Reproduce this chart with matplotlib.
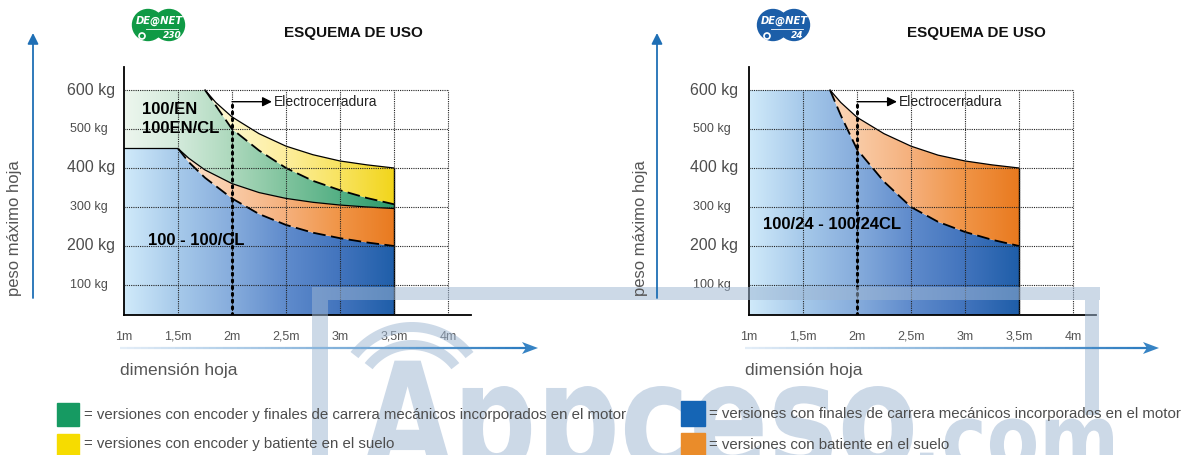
import numpy as np
import matplotlib.pyplot as plt
from matplotlib.colors import LinearSegmentedColormap
from matplotlib.patches import Polygon, Rectangle, Circle, PathPatch
from matplotlib.collections import LineCollection
from matplotlib.textpath import TextPath
from matplotlib.font_manager import FontProperties
from matplotlib.transforms import Affine2D, blended_transform_factory

plt.rcParams['font.family'] = ['Liberation Sans', 'DejaVu Sans']

W, H = 1181, 455

# --- datos ---
dim = [1, 1.5, 2, 2.5, 3, 3.5, 4]
dim_txt = ['1m', '1,5m', '2m', '2,5m', '3m', '3,5m', '4m']
peso = [100, 200, 300, 400, 500, 600]
peso_txt = ['100 kg', '200 kg', '300 kg', '400 kg', '500 kg', '600 kg']

# DEANET 230 (izquierda): techo de cada zona, peso (kg) segun dimension hoja (m)
x_amarillo = [1, 1.75, 1.85, 2, 2.25, 2.5, 2.75, 3, 3.25, 3.5]
y_amarillo = [600, 600, 568, 531, 488, 456, 434, 418, 408, 400]
x_verde = [1, 1.75, 1.85, 2, 2.25, 2.5, 2.75, 3, 3.25, 3.5]
y_verde = [600, 600, 560, 500, 445, 400, 367, 343, 323, 307]
x_naranja = [1, 1.5, 1.6, 1.75, 2, 2.25, 2.5, 2.75, 3, 3.25, 3.5]
y_naranja = [450, 450, 425, 395, 360, 337, 322, 312, 305, 300, 296]
x_azul = [1, 1.5, 1.6, 1.75, 2, 2.25, 2.5, 2.75, 3, 3.25, 3.5]
y_azul = [450, 450, 415, 375, 322, 282, 254, 234, 220, 209, 200]

# DEANET 24 (derecha)
x24_naranja = [1, 1.75, 1.85, 2, 2.25, 2.5, 2.75, 3, 3.25, 3.5]
y24_naranja = [600, 600, 568, 530, 488, 456, 433, 418, 408, 400]
x24_azul = [1, 1.75, 1.85, 2, 2.25, 2.5, 2.75, 3, 3.25, 3.5]
y24_azul = [600, 600, 535, 448, 365, 300, 262, 236, 216, 200]

YBOT, YTOP = 23, 659
XMAX = 1 + 347 / 108

cm_azul = LinearSegmentedColormap.from_list('az', ['#d0eafa', '#a6c9ea', '#86acdc', '#5f8bcc', '#4274bd', '#1f5ea9'])
cm_naranja = LinearSegmentedColormap.from_list('na', ['#fff2e6', '#fde4cf', '#f9cba6', '#f5b07c', '#f09446', '#e97a1f'])
cm_verde = LinearSegmentedColormap.from_list('ve', ['#edf6ee', '#d3eadb', '#acd8bc', '#7fc39d', '#53af84', '#2b9a6c'])
cm_amarillo = LinearSegmentedColormap.from_list('am', ['#fffef5', '#fffbe6', '#fef6c8', '#fdee9c', '#f8e35f', '#f2d51a'])


def gradiente(ax, xt, yt, xb, yb, cmap):
    verts = list(zip(xt, yt)) + list(zip(xb[::-1], yb[::-1]))
    poly = Polygon(verts, closed=True, fc='none', ec='none')
    ax.add_patch(poly)
    im = ax.imshow(np.linspace(0, 1, 256)[None, :], cmap=cmap, aspect='auto',
                   extent=[1, 3.5, YBOT, 600], origin='lower',
                   interpolation='bilinear', zorder=1)
    im.set_clip_path(poly)


def panel(left_px, big_x, small_x):
    ax = fig.add_axes([left_px / W, 1 - 315 / H, 347 / W, (315 - 67) / H])
    ax.set_facecolor('none')
    ax.spines[['top', 'right']].set_visible(False)
    ax.spines[['left', 'bottom']].set_linewidth(1.3)
    ax.set_xticks([])
    ax.set_yticks([])
    # rejilla punteada
    ax.hlines(peso, 1, 4, colors='#222222', linestyles=(0, (1, 1)), lw=0.8, zorder=3)
    ax.vlines(dim[1:], YBOT, 600, colors='#222222', linestyles=(0, (1, 1)), lw=0.8, zorder=3)
    # etiquetas eje x
    trx = blended_transform_factory(ax.transData, ax.transAxes)
    for v, t in zip(dim, dim_txt):
        ax.text(v, -0.1, t, transform=trx, ha='center', va='baseline',
                fontsize=9, color='#555555')
    # etiquetas eje y
    tr = blended_transform_factory(ax.transAxes, ax.transData)
    for v, t in zip(peso, peso_txt):
        if v in (200, 400, 600):
            ax.text((big_x - left_px) / 347, v, t, transform=tr, ha='left', va='center',
                    fontsize=11.5, color='#4d4d4d')
        else:
            ax.text((small_x - left_px) / 347, v, t, transform=tr, ha='left', va='center',
                    fontsize=9, color='#4d4d4d')
    # electrocerradura
    ax.vlines(2, YBOT, 575, colors='k', linestyles=(0, (0.6, 1.6)), lw=2.2, zorder=4,
              capstyle='round')
    ax.annotate('', xy=(2.37, 570), xytext=(2, 570),
                arrowprops=dict(arrowstyle='-|>', color='k', lw=1, mutation_scale=14,
                                shrinkA=0, shrinkB=0), zorder=5)
    ax.text(2.385, 568, 'Electrocerradura', fontsize=10, va='center', color='#222222', zorder=5)
    ax.set_xlim(1, XMAX)
    ax.set_ylim(YBOT, YTOP)
    return ax


fig = plt.figure(figsize=(W / 100, H / 100), dpi=100)

# --- panel izquierdo ---
ax1 = panel(124, 67, 70)
gradiente(ax1, x_azul, y_azul, [1, 3.5], [YBOT, YBOT], cm_azul)
gradiente(ax1, x_naranja, y_naranja, x_azul, y_azul, cm_naranja)
gradiente(ax1, x_verde, y_verde, x_naranja, y_naranja, cm_verde)
gradiente(ax1, x_amarillo, y_amarillo, x_verde, y_verde, cm_amarillo)
ax1.plot(x_amarillo[1:], y_amarillo[1:], color='k', lw=0.9, zorder=2)
ax1.plot(x_verde[1:], y_verde[1:], color='k', ls=(0, (7, 3)), lw=1.3, zorder=2)
ax1.plot(x_naranja, y_naranja, color='k', lw=0.9, zorder=2)
ax1.plot(x_azul[1:], y_azul[1:], color='k', ls=(0, (7, 3)), lw=1.3, zorder=2)
ax1.vlines(3.5, YBOT, 400, colors='k', lw=1, zorder=2)
ax1.set_xlim(1, XMAX)
ax1.set_ylim(YBOT, YTOP)
ax1.text(1.17, 551, '100/EN', fontsize=12, fontweight='bold', va='center', zorder=5)
ax1.text(1.17, 502, '100EN/CL', fontsize=12, fontweight='bold', va='center', zorder=5)
ax1.text(1.22, 213, '100 - 100/CL', fontsize=12, fontweight='bold', va='center', zorder=5)

# --- panel derecho ---
ax2 = panel(749, 690, 693)
gradiente(ax2, x24_azul, y24_azul, [1, 3.5], [YBOT, YBOT], cm_azul)
gradiente(ax2, x24_naranja, y24_naranja, x24_azul, y24_azul, cm_naranja)
ax2.plot(x24_naranja[1:], y24_naranja[1:], color='k', lw=0.9, zorder=2)
ax2.plot(x24_azul[1:], y24_azul[1:], color='k', ls=(0, (7, 3)), lw=1.3, zorder=2)
ax2.vlines(3.5, YBOT, 400, colors='k', lw=1, zorder=2)
ax2.set_xlim(1, XMAX)
ax2.set_ylim(YBOT, YTOP)
ax2.text(1.13, 254, '100/24 - 100/24CL', fontsize=12, fontweight='bold', va='center', zorder=5)

# --- marca de agua (encima de los graficos) ---
wmax = fig.add_axes([0, 0, 1, 1], zorder=5)
wmax.set_xlim(0, W)
wmax.set_ylim(H, 0)
wmax.axis('off')
wm = '#9eb6d2'
wa = 0.52
wmax.add_patch(Rectangle((312, 287), 788, 13, color=wm, alpha=wa, lw=0))
wmax.add_patch(Rectangle((312, 300), 16, 155, color=wm, alpha=wa, lw=0))
wmax.add_patch(Rectangle((1085, 300), 14, 115, color=wm, alpha=wa, lw=0))
th = np.linspace(np.radians(218), np.radians(322), 40)
for r0, r1 in [(68, 78), (50, 60)]:
    pts = [(412 + r1 * np.cos(t), 400 + r1 * np.sin(t)) for t in th]
    pts += [(412 + r0 * np.cos(t), 400 + r0 * np.sin(t)) for t in th[::-1]]
    wmax.add_patch(Polygon(pts, closed=True, color=wm, alpha=wa, lw=0))
fp = FontProperties(family='DejaVu Sans', weight='bold')
for txt, x0, x1, base, em in [('Appceso', 363, 913, 470, 150), ('.com', 920, 1113, 470, 92)]:
    tp = TextPath((0, 0), txt, size=1, prop=fp)
    ext = tp.get_extents()
    t = Affine2D().translate(-ext.x0, 0).scale((x1 - x0) / ext.width, -em).translate(x0, base)
    wmax.add_patch(PathPatch(tp, transform=t + wmax.transData, fc=wm, ec='none', alpha=wa))

# --- capa de anotaciones en pixeles ---
ov = fig.add_axes([0, 0, 1, 1], zorder=10)
ov.set_xlim(0, W)
ov.set_ylim(H, 0)
ov.axis('off')

azul_flecha = '#1f6fb5'
for xv, xh0, xh1, xl in [(33, 120, 538, 15), (657, 745, 1159, 640)]:
    ov.annotate('', xy=(xv, 33), xytext=(xv, 298),
                arrowprops=dict(arrowstyle='-|>', color=azul_flecha, lw=1.3,
                                mutation_scale=16, shrinkA=0, shrinkB=0))
    xs = np.linspace(xh0, xh1 - 12, 60)
    segs = [[(xs[i], 348), (xs[i + 1], 348)] for i in range(len(xs) - 1)]
    cols = LinearSegmentedColormap.from_list('fl', ['#e3edf7', '#2d7cc0'])(np.linspace(0, 1, len(segs)))
    ov.add_collection(LineCollection(segs, colors=cols, lw=1.6))
    ov.add_patch(Polygon([(xh1 - 16, 342), (xh1, 348), (xh1 - 16, 354), (xh1 - 12, 348)],
                         closed=True, color='#3683c4', lw=0))
    ov.text(xl, 228, 'peso máximo hoja', rotation=90, ha='center', va='center',
            fontsize=12, color='#555555')
    ov.text(xh0, 371, 'dimensión hoja', ha='left', va='center', fontsize=12.5, color='#555555')

ov.text(353, 33, 'ESQUEMA DE USO', ha='center', va='center', fontsize=11,
        fontweight='bold', color='#111111')
ov.text(976, 33, 'ESQUEMA DE USO', ha='center', va='center', fontsize=11,
        fontweight='bold', color='#111111')

# logos
for cx, col, num in [(148, '#0f9a45', '230'), (773, '#1c5ea8', '24')]:
    ov.add_patch(Circle((cx, 25), 15.5, color=col))
    ov.add_patch(Circle((cx + 21, 25), 15.5, color=col))
    ov.text(cx + 11, 21, 'DE@NET', ha='center', va='center', fontsize=7.2,
            fontweight='bold', style='italic', color='white', family='DejaVu Sans')
    ov.plot([cx - 2, cx + 30], [29, 29], color='white', lw=0.6)
    ov.text(cx + 24, 36, num, ha='center', va='center', fontsize=6.5,
            fontweight='bold', style='italic', color='white', family='DejaVu Sans')
    ov.add_patch(Circle((cx - 6, 36), 3, fc='none', ec='white', lw=1.2))

# leyenda
ley_txt = '#4d4d4d'
ov.add_patch(Rectangle((57, 403), 22, 23, color='#169a62'))
ov.text(84, 415, '= versiones con encoder y finales de carrera mecánicos incorporados en el motor',
        va='center', fontsize=10.8, color=ley_txt)
ov.add_patch(Rectangle((57, 434), 22, 22, color='#f6dc00'))
ov.text(84, 444, '= versiones con encoder y batiente en el suelo', va='center',
        fontsize=10.8, color=ley_txt)
ov.add_patch(Rectangle((681, 401), 24, 25, color='#1565b5'))
ov.text(709, 414, '= versiones con finales de carrera mecánicos incorporados en el motor',
        va='center', fontsize=10.8, color=ley_txt)
ov.add_patch(Rectangle((681, 433), 24, 22, color='#ea8c2a'))
ov.text(709, 445, '= versiones con batiente en el suelo', va='center', fontsize=10.8,
        color=ley_txt)

fig.savefig('out.png', dpi=100)
